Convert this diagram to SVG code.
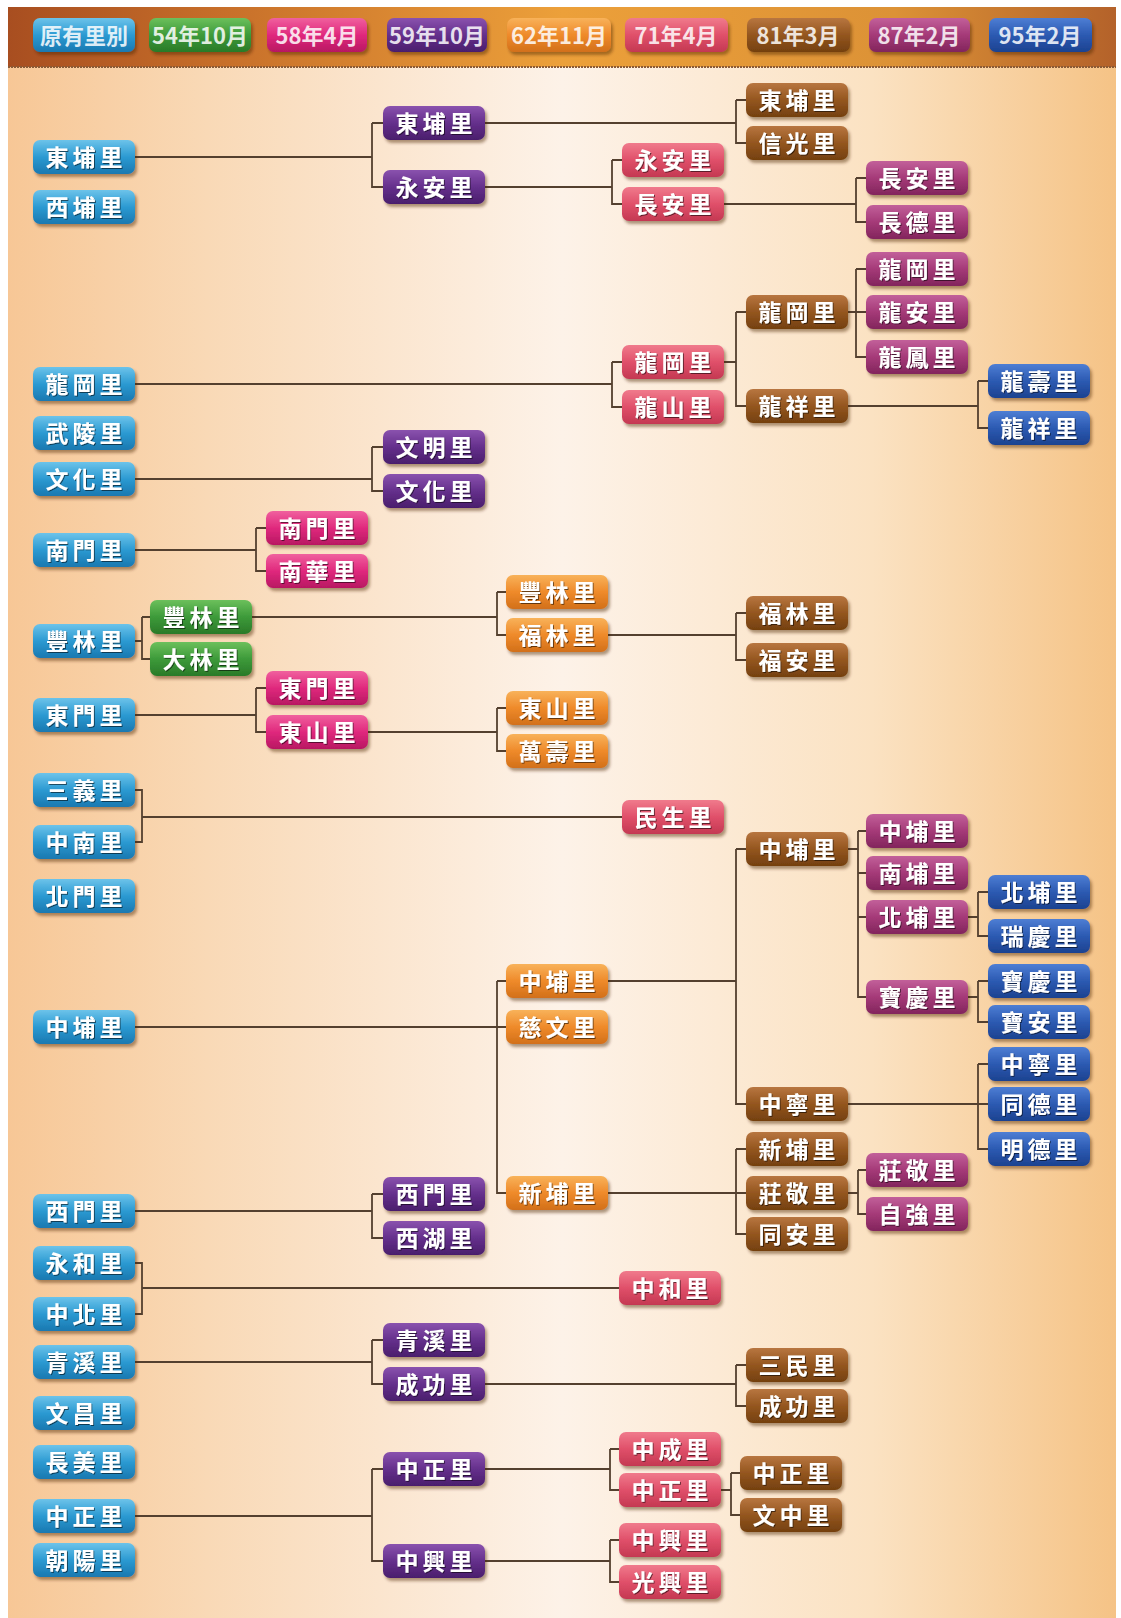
<svg xmlns="http://www.w3.org/2000/svg" width="1121" height="1618" viewBox="0 0 1121 1618">
<defs>
<linearGradient id="bg" x1="0" y1="0" x2="1" y2="0">
<stop offset="0" stop-color="#f7c796"/><stop offset="0.18" stop-color="#f9d9b6"/><stop offset="0.5" stop-color="#fdf2e8"/><stop offset="0.78" stop-color="#fbe2c2"/><stop offset="1" stop-color="#f5c386"/>
</linearGradient>
<linearGradient id="hb" x1="0" y1="0" x2="1" y2="0">
<stop offset="0" stop-color="#a84e20"/><stop offset="0.2" stop-color="#c8702a"/><stop offset="0.5" stop-color="#eca03a"/><stop offset="0.8" stop-color="#dc9236"/><stop offset="1" stop-color="#b4622a"/>
</linearGradient>
<linearGradient id="g0" x1="0" y1="0" x2="0" y2="1"><stop offset="0" stop-color="#6cc3ea"/><stop offset="0.5" stop-color="#2b9ad2"/><stop offset="1" stop-color="#1a78b0"/></linearGradient>
<linearGradient id="g1" x1="0" y1="0" x2="0" y2="1"><stop offset="0" stop-color="#6cc05c"/><stop offset="0.5" stop-color="#3d9a3a"/><stop offset="1" stop-color="#2a7a28"/></linearGradient>
<linearGradient id="g2" x1="0" y1="0" x2="0" y2="1"><stop offset="0" stop-color="#f0609e"/><stop offset="0.5" stop-color="#e0287d"/><stop offset="1" stop-color="#b81862"/></linearGradient>
<linearGradient id="g3" x1="0" y1="0" x2="0" y2="1"><stop offset="0" stop-color="#8a52ae"/><stop offset="0.5" stop-color="#65308c"/><stop offset="1" stop-color="#4a1e6c"/></linearGradient>
<linearGradient id="g4" x1="0" y1="0" x2="0" y2="1"><stop offset="0" stop-color="#f8b25a"/><stop offset="0.5" stop-color="#ef8a2a"/><stop offset="1" stop-color="#d2701a"/></linearGradient>
<linearGradient id="g5" x1="0" y1="0" x2="0" y2="1"><stop offset="0" stop-color="#f07a8c"/><stop offset="0.5" stop-color="#e0506a"/><stop offset="1" stop-color="#c43852"/></linearGradient>
<linearGradient id="g6" x1="0" y1="0" x2="0" y2="1"><stop offset="0" stop-color="#b87640"/><stop offset="0.5" stop-color="#94561f"/><stop offset="1" stop-color="#74400f"/></linearGradient>
<linearGradient id="g7" x1="0" y1="0" x2="0" y2="1"><stop offset="0" stop-color="#c2609a"/><stop offset="0.5" stop-color="#a53a78"/><stop offset="1" stop-color="#82255c"/></linearGradient>
<linearGradient id="g8" x1="0" y1="0" x2="0" y2="1"><stop offset="0" stop-color="#4e7ed4"/><stop offset="0.5" stop-color="#2c5ab2"/><stop offset="1" stop-color="#1c4290"/></linearGradient>
<filter id="sh" x="-10%" y="-20%" width="125%" height="150%"><feDropShadow dx="2" dy="3" stdDeviation="1.5" flood-color="#4a2608" flood-opacity="0.45"/></filter>
<filter id="ts" x="-10%" y="-20%" width="125%" height="150%"><feDropShadow dx="1" dy="1" stdDeviation="0.6" flood-color="#000" flood-opacity="0.55"/></filter>
</defs>
<style>
.node rect{rx:7px;ry:7px;filter:url(#sh)}
.node text{font-family:"Noto Sans CJK TC","Noto Sans CJK SC",sans-serif;font-size:23px;font-weight:700;fill:#fff;letter-spacing:4px;text-anchor:middle;filter:url(#ts)}
.hd text{font-size:22px;fill-opacity:0.85;letter-spacing:0;filter:none}
.c0 rect{fill:url(#g0)}.c1 rect{fill:url(#g1)}.c2 rect{fill:url(#g2)}.c3 rect{fill:url(#g3)}.c4 rect{fill:url(#g4)}.c5 rect{fill:url(#g5)}.c6 rect{fill:url(#g6)}.c7 rect{fill:url(#g7)}.c8 rect{fill:url(#g8)}
#connectors path{fill:none;stroke:#54402f;stroke-width:1.8}
</style>
<rect x="0" y="0" width="1121" height="1618" fill="#ffffff"/>
<rect x="8" y="7" width="1108" height="1611" fill="url(#bg)"/>
<rect x="8" y="7" width="1108" height="60" fill="url(#hb)"/>
<line x1="8" y1="67" x2="1116" y2="67" stroke="#8a5a36" stroke-width="2" stroke-dasharray="2 1"/>

<g id="header">
<g id="h0" class="node hd c0" transform="translate(33,18)"><rect width="102" height="34"/><text x="51" y="26">原有里別</text></g>
<g id="h1" class="node hd c1" transform="translate(149,18)"><rect width="102" height="34"/><text x="51" y="26">54年10月</text></g>
<g id="h2" class="node hd c2" transform="translate(267,18)"><rect width="100" height="34"/><text x="50" y="26">58年4月</text></g>
<g id="h3" class="node hd c3" transform="translate(387,18)"><rect width="100" height="34"/><text x="50" y="26">59年10月</text></g>
<g id="h4" class="node hd c4" transform="translate(507,18)"><rect width="104" height="34"/><text x="52" y="26">62年11月</text></g>
<g id="h5" class="node hd c5" transform="translate(625,18)"><rect width="103" height="34"/><text x="51" y="26">71年4月</text></g>
<g id="h6" class="node hd c6" transform="translate(747,18)"><rect width="103" height="34"/><text x="51" y="26">81年3月</text></g>
<g id="h7" class="node hd c7" transform="translate(869,18)"><rect width="101" height="34"/><text x="50" y="26">87年2月</text></g>
<g id="h8" class="node hd c8" transform="translate(989,18)"><rect width="103" height="34"/><text x="51" y="26">95年2月</text></g>
</g>

<g id="connectors">
<path d="M135 157H372M372 123V187H383M372 123H383"/>
<path d="M485 123H736M736 100V143H746M736 100H746"/>
<path d="M485 187H612M612 160V204H622M612 160H622"/>
<path d="M724 204H856M856 178V222H866M856 178H866"/>
<path d="M135 384H612M612 362V407H622M612 362H622"/>
<path d="M724 362H736M736 312V406H746M736 312H746"/>
<path d="M848 312H856M856 269V357H866M856 269H866M856 312H866"/>
<path d="M848 406H978M978 381V428H988M978 381H988"/>
<path d="M135 479H372M372 447V491H383M372 447H383"/>
<path d="M135 550H256M256 528V571H266M256 528H266"/>
<path d="M135 641H142M142 617V659H150M142 617H150"/>
<path d="M252 617H497M497 592V635H506M497 592H506"/>
<path d="M608 635H736M736 613V660H746M736 613H746"/>
<path d="M135 715H256M256 688V732H266M256 688H266"/>
<path d="M368 732H497M497 708V751H506M497 708H506"/>
<path d="M135 790H142V842H135M142 817H622"/>
<path d="M135 1027H497M497 981V1193H506M497 981H506M497 1027H506"/>
<path d="M608 981H736M736 849V1104H746M736 849H746"/>
<path d="M848 849H858M858 831V997H866M858 831H866M858 873H866M858 917H866"/>
<path d="M968 917H978M978 892V936H988M978 892H988"/>
<path d="M968 997H978M978 981V1022H988M978 981H988"/>
<path d="M848 1104H978M978 1064V1149H988M978 1064H988M978 1104H988"/>
<path d="M608 1193H736M736 1149V1234H746M736 1149H746M736 1193H746"/>
<path d="M848 1193H858M858 1170V1214H866M858 1170H866"/>
<path d="M135 1211H372M372 1194V1238H383M372 1194H383"/>
<path d="M135 1263H142V1314H135M142 1288H619"/>
<path d="M135 1362H372M372 1340V1384H383M372 1340H383"/>
<path d="M485 1384H736M736 1365V1406H746M736 1365H746"/>
<path d="M135 1516H372M372 1469V1561H383M372 1469H383"/>
<path d="M485 1469H610M610 1449V1490H619M610 1449H619"/>
<path d="M721 1490H731M731 1473V1515H740M731 1473H740"/>
<path d="M485 1561H610M610 1540V1582H619M610 1540H619"/>
</g>

<g id="nodes">
<g id="c0-1" class="node c0" transform="translate(33,140)"><rect width="102" height="34"/><text x="53" y="26">東埔里</text></g>
<g id="c0-2" class="node c0" transform="translate(33,190)"><rect width="102" height="34"/><text x="53" y="26">西埔里</text></g>
<g id="c0-3" class="node c0" transform="translate(33,367)"><rect width="102" height="34"/><text x="53" y="26">龍岡里</text></g>
<g id="c0-4" class="node c0" transform="translate(33,416)"><rect width="102" height="34"/><text x="53" y="26">武陵里</text></g>
<g id="c0-5" class="node c0" transform="translate(33,462)"><rect width="102" height="34"/><text x="53" y="26">文化里</text></g>
<g id="c0-6" class="node c0" transform="translate(33,533)"><rect width="102" height="34"/><text x="53" y="26">南門里</text></g>
<g id="c0-7" class="node c0" transform="translate(33,624)"><rect width="102" height="34"/><text x="53" y="26">豐林里</text></g>
<g id="c0-8" class="node c0" transform="translate(33,698)"><rect width="102" height="34"/><text x="53" y="26">東門里</text></g>
<g id="c0-9" class="node c0" transform="translate(33,773)"><rect width="102" height="34"/><text x="53" y="26">三義里</text></g>
<g id="c0-10" class="node c0" transform="translate(33,825)"><rect width="102" height="34"/><text x="53" y="26">中南里</text></g>
<g id="c0-11" class="node c0" transform="translate(33,879)"><rect width="102" height="34"/><text x="53" y="26">北門里</text></g>
<g id="c0-12" class="node c0" transform="translate(33,1010)"><rect width="102" height="34"/><text x="53" y="26">中埔里</text></g>
<g id="c0-13" class="node c0" transform="translate(33,1194)"><rect width="102" height="34"/><text x="53" y="26">西門里</text></g>
<g id="c0-14" class="node c0" transform="translate(33,1246)"><rect width="102" height="34"/><text x="53" y="26">永和里</text></g>
<g id="c0-15" class="node c0" transform="translate(33,1297)"><rect width="102" height="34"/><text x="53" y="26">中北里</text></g>
<g id="c0-16" class="node c0" transform="translate(33,1345)"><rect width="102" height="34"/><text x="53" y="26">青溪里</text></g>
<g id="c0-17" class="node c0" transform="translate(33,1396)"><rect width="102" height="34"/><text x="53" y="26">文昌里</text></g>
<g id="c0-18" class="node c0" transform="translate(33,1445)"><rect width="102" height="34"/><text x="53" y="26">長美里</text></g>
<g id="c0-19" class="node c0" transform="translate(33,1499)"><rect width="102" height="34"/><text x="53" y="26">中正里</text></g>
<g id="c0-20" class="node c0" transform="translate(33,1543)"><rect width="102" height="34"/><text x="53" y="26">朝陽里</text></g>

<g id="c1-1" class="node c1" transform="translate(150,600)"><rect width="102" height="34"/><text x="53" y="26">豐林里</text></g>
<g id="c1-2" class="node c1" transform="translate(150,642)"><rect width="102" height="34"/><text x="53" y="26">大林里</text></g>

<g id="c2-1" class="node c2" transform="translate(266,511)"><rect width="102" height="34"/><text x="53" y="26">南門里</text></g>
<g id="c2-2" class="node c2" transform="translate(266,554)"><rect width="102" height="34"/><text x="53" y="26">南華里</text></g>
<g id="c2-3" class="node c2" transform="translate(266,671)"><rect width="102" height="34"/><text x="53" y="26">東門里</text></g>
<g id="c2-4" class="node c2" transform="translate(266,715)"><rect width="102" height="34"/><text x="53" y="26">東山里</text></g>

<g id="c3-1" class="node c3" transform="translate(383,106)"><rect width="102" height="34"/><text x="53" y="26">東埔里</text></g>
<g id="c3-2" class="node c3" transform="translate(383,170)"><rect width="102" height="34"/><text x="53" y="26">永安里</text></g>
<g id="c3-3" class="node c3" transform="translate(383,430)"><rect width="102" height="34"/><text x="53" y="26">文明里</text></g>
<g id="c3-4" class="node c3" transform="translate(383,474)"><rect width="102" height="34"/><text x="53" y="26">文化里</text></g>
<g id="c3-5" class="node c3" transform="translate(383,1177)"><rect width="102" height="34"/><text x="53" y="26">西門里</text></g>
<g id="c3-6" class="node c3" transform="translate(383,1221)"><rect width="102" height="34"/><text x="53" y="26">西湖里</text></g>
<g id="c3-7" class="node c3" transform="translate(383,1323)"><rect width="102" height="34"/><text x="53" y="26">青溪里</text></g>
<g id="c3-8" class="node c3" transform="translate(383,1367)"><rect width="102" height="34"/><text x="53" y="26">成功里</text></g>
<g id="c3-9" class="node c3" transform="translate(383,1452)"><rect width="102" height="34"/><text x="53" y="26">中正里</text></g>
<g id="c3-10" class="node c3" transform="translate(383,1544)"><rect width="102" height="34"/><text x="53" y="26">中興里</text></g>

<g id="c4-1" class="node c4" transform="translate(506,575)"><rect width="102" height="34"/><text x="53" y="26">豐林里</text></g>
<g id="c4-2" class="node c4" transform="translate(506,618)"><rect width="102" height="34"/><text x="53" y="26">福林里</text></g>
<g id="c4-3" class="node c4" transform="translate(506,691)"><rect width="102" height="34"/><text x="53" y="26">東山里</text></g>
<g id="c4-4" class="node c4" transform="translate(506,734)"><rect width="102" height="34"/><text x="53" y="26">萬壽里</text></g>
<g id="c4-5" class="node c4" transform="translate(506,964)"><rect width="102" height="34"/><text x="53" y="26">中埔里</text></g>
<g id="c4-6" class="node c4" transform="translate(506,1010)"><rect width="102" height="34"/><text x="53" y="26">慈文里</text></g>
<g id="c4-7" class="node c4" transform="translate(506,1176)"><rect width="102" height="34"/><text x="53" y="26">新埔里</text></g>

<g id="c5-1" class="node c5" transform="translate(622,143)"><rect width="102" height="34"/><text x="53" y="26">永安里</text></g>
<g id="c5-2" class="node c5" transform="translate(622,187)"><rect width="102" height="34"/><text x="53" y="26">長安里</text></g>
<g id="c5-3" class="node c5" transform="translate(622,345)"><rect width="102" height="34"/><text x="53" y="26">龍岡里</text></g>
<g id="c5-4" class="node c5" transform="translate(622,390)"><rect width="102" height="34"/><text x="53" y="26">龍山里</text></g>
<g id="c5-5" class="node c5" transform="translate(622,800)"><rect width="102" height="34"/><text x="53" y="26">民生里</text></g>
<g id="c5-6" class="node c5" transform="translate(619,1271)"><rect width="102" height="34"/><text x="53" y="26">中和里</text></g>
<g id="c5-7" class="node c5" transform="translate(619,1432)"><rect width="102" height="34"/><text x="53" y="26">中成里</text></g>
<g id="c5-8" class="node c5" transform="translate(619,1473)"><rect width="102" height="34"/><text x="53" y="26">中正里</text></g>
<g id="c5-9" class="node c5" transform="translate(619,1523)"><rect width="102" height="34"/><text x="53" y="26">中興里</text></g>
<g id="c5-10" class="node c5" transform="translate(619,1565)"><rect width="102" height="34"/><text x="53" y="26">光興里</text></g>

<g id="c6-1" class="node c6" transform="translate(746,83)"><rect width="102" height="34"/><text x="53" y="26">東埔里</text></g>
<g id="c6-2" class="node c6" transform="translate(746,126)"><rect width="102" height="34"/><text x="53" y="26">信光里</text></g>
<g id="c6-3" class="node c6" transform="translate(746,295)"><rect width="102" height="34"/><text x="53" y="26">龍岡里</text></g>
<g id="c6-4" class="node c6" transform="translate(746,389)"><rect width="102" height="34"/><text x="53" y="26">龍祥里</text></g>
<g id="c6-5" class="node c6" transform="translate(746,596)"><rect width="102" height="34"/><text x="53" y="26">福林里</text></g>
<g id="c6-6" class="node c6" transform="translate(746,643)"><rect width="102" height="34"/><text x="53" y="26">福安里</text></g>
<g id="c6-7" class="node c6" transform="translate(746,832)"><rect width="102" height="34"/><text x="53" y="26">中埔里</text></g>
<g id="c6-8" class="node c6" transform="translate(746,1087)"><rect width="102" height="34"/><text x="53" y="26">中寧里</text></g>
<g id="c6-9" class="node c6" transform="translate(746,1132)"><rect width="102" height="34"/><text x="53" y="26">新埔里</text></g>
<g id="c6-10" class="node c6" transform="translate(746,1176)"><rect width="102" height="34"/><text x="53" y="26">莊敬里</text></g>
<g id="c6-11" class="node c6" transform="translate(746,1217)"><rect width="102" height="34"/><text x="53" y="26">同安里</text></g>
<g id="c6-12" class="node c6" transform="translate(746,1348)"><rect width="102" height="34"/><text x="53" y="26">三民里</text></g>
<g id="c6-13" class="node c6" transform="translate(746,1389)"><rect width="102" height="34"/><text x="53" y="26">成功里</text></g>
<g id="c6-14" class="node c6" transform="translate(740,1456)"><rect width="102" height="34"/><text x="53" y="26">中正里</text></g>
<g id="c6-15" class="node c6" transform="translate(740,1498)"><rect width="102" height="34"/><text x="53" y="26">文中里</text></g>

<g id="c7-1" class="node c7" transform="translate(866,161)"><rect width="102" height="34"/><text x="53" y="26">長安里</text></g>
<g id="c7-2" class="node c7" transform="translate(866,205)"><rect width="102" height="34"/><text x="53" y="26">長德里</text></g>
<g id="c7-3" class="node c7" transform="translate(866,252)"><rect width="102" height="34"/><text x="53" y="26">龍岡里</text></g>
<g id="c7-4" class="node c7" transform="translate(866,295)"><rect width="102" height="34"/><text x="53" y="26">龍安里</text></g>
<g id="c7-5" class="node c7" transform="translate(866,340)"><rect width="102" height="34"/><text x="53" y="26">龍鳳里</text></g>
<g id="c7-6" class="node c7" transform="translate(866,814)"><rect width="102" height="34"/><text x="53" y="26">中埔里</text></g>
<g id="c7-7" class="node c7" transform="translate(866,856)"><rect width="102" height="34"/><text x="53" y="26">南埔里</text></g>
<g id="c7-8" class="node c7" transform="translate(866,900)"><rect width="102" height="34"/><text x="53" y="26">北埔里</text></g>
<g id="c7-9" class="node c7" transform="translate(866,980)"><rect width="102" height="34"/><text x="53" y="26">寶慶里</text></g>
<g id="c7-10" class="node c7" transform="translate(866,1153)"><rect width="102" height="34"/><text x="53" y="26">莊敬里</text></g>
<g id="c7-11" class="node c7" transform="translate(866,1197)"><rect width="102" height="34"/><text x="53" y="26">自強里</text></g>

<g id="c8-1" class="node c8" transform="translate(988,364)"><rect width="102" height="34"/><text x="53" y="26">龍壽里</text></g>
<g id="c8-2" class="node c8" transform="translate(988,411)"><rect width="102" height="34"/><text x="53" y="26">龍祥里</text></g>
<g id="c8-3" class="node c8" transform="translate(988,875)"><rect width="102" height="34"/><text x="53" y="26">北埔里</text></g>
<g id="c8-4" class="node c8" transform="translate(988,919)"><rect width="102" height="34"/><text x="53" y="26">瑞慶里</text></g>
<g id="c8-5" class="node c8" transform="translate(988,964)"><rect width="102" height="34"/><text x="53" y="26">寶慶里</text></g>
<g id="c8-6" class="node c8" transform="translate(988,1005)"><rect width="102" height="34"/><text x="53" y="26">寶安里</text></g>
<g id="c8-7" class="node c8" transform="translate(988,1047)"><rect width="102" height="34"/><text x="53" y="26">中寧里</text></g>
<g id="c8-8" class="node c8" transform="translate(988,1087)"><rect width="102" height="34"/><text x="53" y="26">同德里</text></g>
<g id="c8-9" class="node c8" transform="translate(988,1132)"><rect width="102" height="34"/><text x="53" y="26">明德里</text></g>
</g>
</svg>
